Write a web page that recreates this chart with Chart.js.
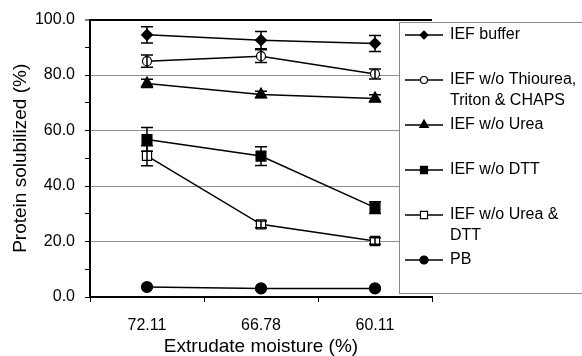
<!DOCTYPE html>
<html>
<head>
<meta charset="utf-8">
<script src="https://cdn.jsdelivr.net/npm/chart.js@4"></script>
<style>
  html, body { margin: 0; padding: 0; background: #fff; }
</style>
</head>
<body>
<canvas id="solubilityChart" width="582" height="356"></canvas>
<script>
// Extrudate moisture categories (x axis)
const moisture = ["72.11", "66.78", "60.11"];

// Protein solubilized (%) per extraction buffer, with error bars
const iefBuffer = [94.5, 92.6, 91.4];
const iefBufferErr = [2.9, 3.1, 2.9];
const noThiourea = [85.0, 86.8, 80.4];
const noThioureaErr = [2.2, 2.3, 1.8];
const noUrea = [77.0, 73.0, 71.6];
const noUreaErr = [1.5, 1.2, 1.3];
const noDtt = [56.8, 50.8, 32.2];
const noDttErr = [4.3, 3.4, 2.1];
const noUreaDtt = [50.9, 26.2, 20.2];
const noUreaDttErr = [3.6, 1.2, 1.2];
const pb = [3.6, 3.1, 3.1];
const pbErr = [0.4, 0.3, 0.3];

const seriesLabels = [
  "IEF buffer",
  "IEF w/o Thiourea,\nTriton & CHAPS",
  "IEF w/o Urea",
  "IEF w/o DTT",
  "IEF w/o Urea &\nDTT",
  "PB",
];

const FONT = "'Liberation Sans', Arial, sans-serif";
Chart.defaults.font.family = FONT;
Chart.defaults.color = "#000";

function series(label, data, errors, style, radius, open, legendRadius) {
  return {
    label: label,
    data: data,
    errors: errors,
    borderColor: "#000",
    borderWidth: 1.5,
    tension: 0,
    fill: false,
    pointStyle: style,
    pointRadius: radius,
    pointHoverRadius: radius,
    pointBorderWidth: 1.2,
    pointBorderColor: "#000",
    pointBackgroundColor: open ? "#fff" : "#000",
    legendRadius: legendRadius,
    open: open,
  };
}

const datasets = [
  series(seriesLabels[0], iefBuffer, iefBufferErr, "rectRot", 5.5, false, 4),
  series(seriesLabels[1], noThiourea, noThioureaErr, "circle", 4.5, true, 3.5),
  series(seriesLabels[2], noUrea, noUreaErr, "triangle", 6.5, false, 5),
  series(seriesLabels[3], noDtt, noDttErr, "rect", 7, false, 5),
  series(seriesLabels[4], noUreaDtt, noUreaDttErr, "rect", 6.5, true, 5),
  series(seriesLabels[5], pb, pbErr, "circle", 5.5, false, 4),
];

// error bars with caps, drawn over the lines
const errorBars = {
  id: "errorBars",
  afterDatasetsDraw(chart) {
    const ctx = chart.ctx;
    const y = chart.scales.y;
    ctx.save();
    ctx.strokeStyle = "#000";
    ctx.lineWidth = 1.5;
    chart.data.datasets.forEach((ds, i) => {
      const meta = chart.getDatasetMeta(i);
      meta.data.forEach((pt, j) => {
        const e = ds.errors[j];
        if (!e) return;
        const top = y.getPixelForValue(ds.data[j] + e);
        const bot = y.getPixelForValue(ds.data[j] - e);
        ctx.beginPath();
        ctx.moveTo(pt.x, top);
        ctx.lineTo(pt.x, bot);
        ctx.moveTo(pt.x - 6, top);
        ctx.lineTo(pt.x + 6, top);
        ctx.moveTo(pt.x - 6, bot);
        ctx.lineTo(pt.x + 6, bot);
        ctx.stroke();
      });
    });
    ctx.restore();
  },
};

function drawMarker(ctx, style, x, y, r, open) {
  ctx.beginPath();
  if (style === "circle") {
    ctx.arc(x, y, r, 0, Math.PI * 2);
  } else if (style === "rectRot") {
    ctx.moveTo(x - r, y);
    ctx.lineTo(x, y - r);
    ctx.lineTo(x + r, y);
    ctx.lineTo(x, y + r);
  } else if (style === "triangle") {
    ctx.moveTo(x - r * 0.866, y + r * 0.5);
    ctx.lineTo(x, y - r);
    ctx.lineTo(x + r * 0.866, y + r * 0.5);
  } else {
    const s = r * Math.SQRT1_2;
    ctx.rect(x - s, y - s, 2 * s, 2 * s);
  }
  ctx.closePath();
  ctx.fillStyle = open ? "#fff" : "#000";
  ctx.fill();
  ctx.stroke();
}

// boxed legend on the right, overlapping the plot edge
const sideLegend = {
  id: "sideLegend",
  afterDraw(chart) {
    const ctx = chart.ctx;
    ctx.save();
    ctx.fillStyle = "#fff";
    ctx.fillRect(399, 22, 200, 272);
    ctx.strokeStyle = "#888";
    ctx.lineWidth = 1;
    ctx.strokeRect(399.5, 22.5, 200, 271);

    ctx.font = "16px " + FONT;
    ctx.textBaseline = "middle";
    chart.data.datasets.forEach((ds, i) => {
      const cy = 35 + i * 45;
      ctx.strokeStyle = "#000";
      ctx.lineWidth = 1.5;
      ctx.beginPath();
      ctx.moveTo(405, cy);
      ctx.lineTo(443, cy);
      ctx.stroke();
      ctx.lineWidth = 1.2;
      drawMarker(ctx, ds.pointStyle, 424, cy, ds.legendRadius, ds.open);
      ctx.fillStyle = "#000";
      ds.label.split("\n").forEach((line, k) => {
        ctx.fillText(line, 450, cy + k * 20.5);
      });
    });
    ctx.restore();
  },
};

new Chart(document.getElementById("solubilityChart").getContext("2d"), {
  type: "line",
  data: {
    labels: moisture,
    datasets: datasets,
  },
  options: {
    responsive: false,
    animation: false,
    devicePixelRatio: 1,
    layout: {
      padding: { top: 19, right: 150, left: 0, bottom: 0 },
    },
    plugins: {
      legend: { display: false },
      tooltip: { enabled: false },
    },
    scales: {
      x: {
        offset: true,
        grid: { drawOnChartArea: false, offset: true, tickLength: 5, tickColor: "#000" },
        border: { color: "#000", width: 2 },
        ticks: { color: "#000", font: { size: 16 }, padding: 14, maxRotation: 0 },
        title: {
          display: true,
          text: "Extrudate moisture (%)",
          color: "#000",
          font: { size: 19, lineHeight: 1 },
          padding: { top: 0, bottom: 0 },
        },
        afterFit: (s) => { s.height = 59; },
      },
      y: {
        min: 0,
        max: 100,
        grid: {
          color: (c) => {
            const v = c.tick.value;
            if (v === 100) return "#000";
            if (v > 0 && v % 20 === 0) return "#909090";
            return "rgba(0,0,0,0)";
          },
          lineWidth: (c) => (c.tick.value === 100 ? 2 : 1),
          tickLength: 5,
          tickColor: "#000",
          tickWidth: 1,
        },
        border: { color: "#000", width: 2 },
        ticks: {
          stepSize: 10,
          autoSkip: false,
          color: "#000",
          font: { size: 16 },
          padding: 10,
          callback: (v) => (v % 20 === 0 ? v.toFixed(1) : ""),
        },
        title: {
          display: true,
          text: "Protein solubilized (%)",
          color: "#000",
          font: { size: 19, lineHeight: 1 },
          padding: { top: 11, bottom: 0 },
        },
        afterFit: (s) => { s.width = 90; },
      },
    },
  },
  plugins: [errorBars, sideLegend],
});
</script>
</body>
</html>
